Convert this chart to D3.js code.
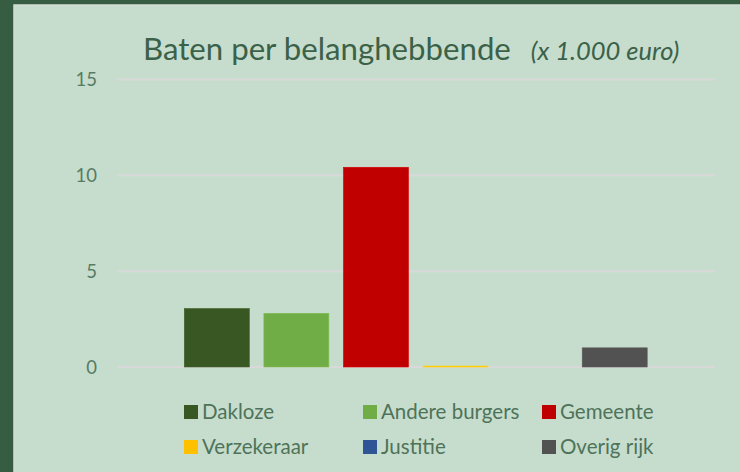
<!DOCTYPE html>
<html><head><meta charset="utf-8">
<script src="https://cdn.jsdelivr.net/npm/d3@7"></script>
<style>body{margin:0;background:#365c42;}svg{display:block;}</style>
</head><body>
<svg id="c" width="740" height="472"></svg>
<script>
const series = ["Dakloze","Andere burgers","Gemeente","Verzekeraar","Justitie","Overig rijk"];
const values = [3.05, 2.8, 10.42, 0.05, 0, 1.0];
const colors = ["#385723","#70ad47","#c00000","#ffc000","#2f5597","#525252"];
const yTicks = [0,5,10,15];

(function(){
const svg = d3.select("#c");
svg.append("rect").attr("x",14).attr("y",5).attr("width",740).attr("height",480)
  .attr("fill","#c6ddcd").attr("stroke","#d6dcd8").attr("stroke-width",1.5);

const pLeft=117, pRight=715, pTop=79.5, pBottom=367;
const y = d3.scaleLinear().domain([0,15]).range([pBottom,pTop]);
const x = d3.scaleBand().domain(series).range([177, 654.5]).paddingInner(0).paddingOuter(0);

svg.append("g").selectAll("line").data(yTicks).join("line")
  .attr("x1",pLeft).attr("x2",pRight).attr("y1",d=>y(d)).attr("y2",d=>y(d))
  .attr("stroke","#d9d9d9").attr("stroke-width",2);

const yAxis = d3.axisLeft(y).tickValues(yTicks).tickSize(0).tickPadding(0);
const gy = svg.append("g").attr("transform","translate(97,0)").call(yAxis);
gy.select(".domain").remove();
gy.selectAll("text").attr("font-family","Lato, 'Open Sans', sans-serif").attr("font-size",18.5)
  .attr("fill","#587b64").attr("dy","0.35em");

const bw = x.bandwidth(), barW = 65;
svg.append("g").selectAll("rect").data(series).join("rect")
  .attr("x",d=>x(d)+ (bw-barW)/2).attr("width",barW)
  .attr("y",(d,i)=>y(values[i])).attr("height",(d,i)=>Math.max(0, y(0)-y(values[i])))
  .attr("fill",(d,i)=>colors[i])
  .attr("stroke",(d,i)=>values[i]>0?d3.color(colors[i]).brighter(0.3):"none").attr("stroke-width",0.6);

const t = svg.append("text").attr("x",143).attr("y",60).attr("fill","#3b6148")
  .attr("font-family","Lato, 'Open Sans', sans-serif");
t.append("tspan").attr("font-size",31.2).text("Baten per belanghebbende");
t.append("tspan").attr("font-size",25.5).attr("font-style","italic").attr("dx",20).text("(x 1.000 euro)");

const lx=[184,363,542], ly=[412,447];
const lg = svg.append("g").selectAll("g").data(series).join("g")
  .attr("transform",(d,i)=>`translate(${lx[i%3]},${ly[Math.floor(i/3)]})`);
lg.append("rect").attr("x",0).attr("y",-7).attr("width",14).attr("height",14).attr("fill",(d,i)=>colors[i]);
lg.append("text").attr("x",18).attr("y",0).attr("dy","0.35em").attr("font-size",20.5)
  .attr("font-family","Lato, 'Open Sans', sans-serif").attr("fill","#4e7359").text(d=>d);
})();
</script>
</body></html>
